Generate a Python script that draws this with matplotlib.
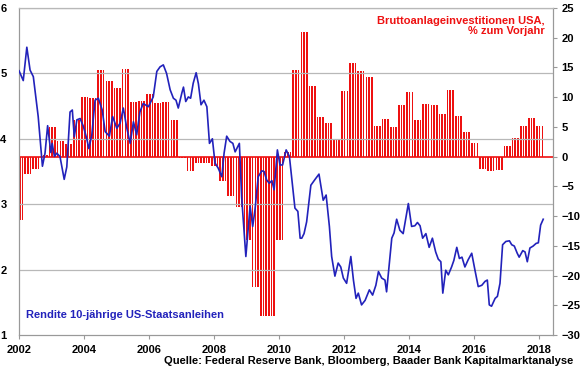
import numpy as np
import matplotlib
matplotlib.use("Agg")
import matplotlib.pyplot as plt

# Bruttoanlageinvestitionen USA, % zum Vorjahr (quarterly, from Q1 2002)
invest_start = 2002
invest_growth = [
    -10.6, -3.0, -2.1, 0.3,
    5.0, 2.6, 2.2, 6.1,
    10.1, 9.8, 14.6, 12.8,
    11.5, 14.7, 9.2, 9.3,
    10.6, 9.0, 9.2, 6.2,
    -0.2, -2.5, -1.0, -1.0,
    -1.5, -4.1, -6.7, -8.4,
    -14.1, -22.0, -26.8, -26.8,
    -14.1, 0.8, 14.6, 21.0,
    11.8, 6.7, 5.7, 2.9,
    11.0, 15.8, 14.4, 13.4,
    5.1, 6.3, 4.9, 8.7,
    10.9, 6.2, 8.8, 8.7,
    7.1, 11.2, 6.9, 4.1,
    2.3, -2.1, -2.4, -2.3,
    1.8, 3.2, 5.1, 6.5,
    5.1,
]

# Rendite 10-jaehrige US-Staatsanleihen
yield_years = [
    2002.00, 2002.13, 2002.24, 2002.34, 2002.44, 2002.59, 2002.72, 2002.80, 2002.88, 2002.98,
    2003.02, 2003.09, 2003.16, 2003.26, 2003.39, 2003.47, 2003.57, 2003.64, 2003.70, 2003.78,
    2003.88, 2003.98, 2004.08, 2004.15, 2004.24, 2004.34, 2004.44, 2004.56, 2004.65, 2004.78,
    2004.88, 2005.01, 2005.11, 2005.21, 2005.31, 2005.42, 2005.52, 2005.62, 2005.72, 2005.82,
    2005.98, 2006.13, 2006.24, 2006.34, 2006.44, 2006.54, 2006.65, 2006.75, 2006.83, 2006.90,
    2007.01, 2007.06, 2007.13, 2007.21, 2007.28, 2007.36, 2007.45, 2007.52, 2007.60, 2007.69,
    2007.78, 2007.86, 2007.95, 2008.03, 2008.13, 2008.24, 2008.31, 2008.39, 2008.49, 2008.58,
    2008.65, 2008.78, 2008.85, 2008.98, 2009.11, 2009.19, 2009.26, 2009.36, 2009.47, 2009.54,
    2009.62, 2009.70, 2009.78, 2009.85, 2009.95, 2010.03, 2010.11, 2010.22, 2010.32, 2010.42,
    2010.49, 2010.58, 2010.65, 2010.70, 2010.77, 2010.85, 2010.98, 2011.11, 2011.23, 2011.36,
    2011.45, 2011.55, 2011.62, 2011.72, 2011.82, 2011.90, 2011.98, 2012.08, 2012.21, 2012.29,
    2012.37, 2012.44, 2012.54, 2012.65, 2012.78, 2012.88, 2012.98, 2013.06, 2013.16, 2013.26,
    2013.31, 2013.47, 2013.54, 2013.62, 2013.72, 2013.82, 2013.98, 2014.08, 2014.18, 2014.26,
    2014.34, 2014.42, 2014.52, 2014.62, 2014.72, 2014.82, 2014.90, 2014.98, 2015.04, 2015.13,
    2015.21, 2015.31, 2015.38, 2015.47, 2015.55, 2015.63, 2015.72, 2015.82, 2015.93, 2016.03,
    2016.13, 2016.24, 2016.34, 2016.41, 2016.47, 2016.54, 2016.65, 2016.72, 2016.80, 2016.88,
    2016.98, 2017.09, 2017.16, 2017.24, 2017.33, 2017.39, 2017.50, 2017.57, 2017.64, 2017.72,
    2017.82, 2017.91, 2017.98, 2018.05, 2018.13,
]
yield_values = [
    5.04, 4.89, 5.40, 5.05, 4.95, 4.34, 3.58, 3.78, 4.20, 3.79,
    3.93, 3.73, 3.78, 3.73, 3.38, 3.57, 4.41, 4.44, 4.03, 4.29,
    4.31, 4.19, 4.01, 3.85, 4.06, 4.59, 4.62, 4.44, 4.11, 4.04,
    4.34, 4.16, 4.24, 4.47, 4.18, 3.93, 4.26, 4.06, 4.41, 4.54,
    4.49, 4.64, 5.03, 5.10, 5.13, 5.00, 4.75, 4.62, 4.59, 4.47,
    4.70, 4.79, 4.57, 4.64, 4.62, 4.85, 5.01, 4.84, 4.52, 4.59,
    4.49, 3.93, 4.00, 3.63, 3.55, 3.42, 3.78, 4.04, 3.96, 3.93,
    3.80, 3.93, 3.11, 2.20, 2.97, 2.66, 2.91, 3.42, 3.51, 3.50,
    3.37, 3.32, 3.36, 3.22, 3.83, 3.60, 3.60, 3.83, 3.73, 3.27,
    2.94, 2.89, 2.48, 2.48, 2.55, 2.73, 3.29, 3.38, 3.46, 3.06,
    3.14, 2.66, 2.20, 1.90, 2.10, 2.04, 1.87, 1.79, 2.20, 1.84,
    1.56, 1.64, 1.46, 1.53, 1.69, 1.61, 1.76, 1.97, 1.87, 1.84,
    1.66, 2.48, 2.56, 2.77, 2.60, 2.55, 3.01, 2.66, 2.67, 2.72,
    2.67, 2.48, 2.55, 2.34, 2.48, 2.27, 2.16, 2.12, 1.64, 1.99,
    1.92, 2.04, 2.14, 2.34, 2.17, 2.19, 2.04, 2.15, 2.25, 1.99,
    1.74, 1.76, 1.82, 1.84, 1.46, 1.44, 1.56, 1.59, 1.79, 2.38,
    2.43, 2.44, 2.38, 2.36, 2.25, 2.19, 2.29, 2.27, 2.12, 2.33,
    2.36, 2.40, 2.41, 2.68, 2.77,
]

year_ticks = [2002, 2004, 2006, 2008, 2010, 2012, 2014, 2016, 2018]

RED = "#ee1111"
BLUE = "#2222bb"
GRID = "#b8b8b8"

plt.rcParams["font.family"] = ["Liberation Sans", "DejaVu Sans"]
plt.rcParams["font.weight"] = "bold"

fig = plt.figure(figsize=(5.8, 3.75), dpi=100)
ax = fig.add_axes([0.0328, 0.1067, 0.9206, 0.872])
ax2 = ax.twinx()

# monthly bars, each quarter value shown for its three months
q = np.repeat(np.arange(len(invest_growth)), 3)
m = np.tile(np.arange(3), len(invest_growth))
bar_x = invest_start + (3 * q + m - 0.75) / 12
bar_y = np.repeat(invest_growth, 3)
ax2.bar(bar_x, bar_y, width=0.6 / 12, color=RED, linewidth=0, zorder=2)
ax2.axhline(0, color=RED, lw=1.2, zorder=3)

ax.plot(yield_years, yield_values, color=BLUE, lw=1.2, zorder=5)

# blue line on top of the bars
ax.set_zorder(ax2.get_zorder() + 1)
ax.patch.set_visible(False)

ax.set_xlim(2002, 2018.43)
ax.set_ylim(1, 6)
ax2.set_ylim(-30, 25)
ax.set_yticks([1, 2, 3, 4, 5, 6])
ax2.set_yticks(np.arange(-30, 26, 5))
ax.set_xticks(year_ticks)
ax.set_xticklabels([str(y) for y in year_ticks])

for y in [2, 3, 4, 5, 6]:
    ax.axhline(y, color=GRID, lw=0.9, zorder=0)

for a in (ax, ax2):
    for s in a.spines.values():
        s.set_color("#999999")
        s.set_linewidth(0.8)
ax.spines["top"].set_color(GRID)

ax.tick_params(axis="x", length=3, color="#999999", labelsize=8, pad=4)
ax.tick_params(axis="y", length=0, labelsize=8, pad=9)
ax2.tick_params(axis="y", length=3, color="#999999", labelsize=8, pad=3)

ax2.text(0.985, 0.975, "Bruttoanlageinvestitionen USA,\n% zum Vorjahr",
         transform=ax.transAxes, ha="right", va="top", color=RED,
         fontsize=8, fontweight="bold", linespacing=1.0, zorder=10)
ax.text(0.013, 0.045, "Rendite 10-jährige US-Staatsanleihen",
        transform=ax.transAxes, ha="left", va="bottom", color=BLUE,
        fontsize=8, fontweight="bold")
fig.text(0.988, 0.025, "Quelle: Federal Reserve Bank, Bloomberg, Baader Bank Kapitalmarktanalyse",
         ha="right", va="bottom", fontsize=8, fontweight="bold")

fig.savefig("out.png", dpi=100)
